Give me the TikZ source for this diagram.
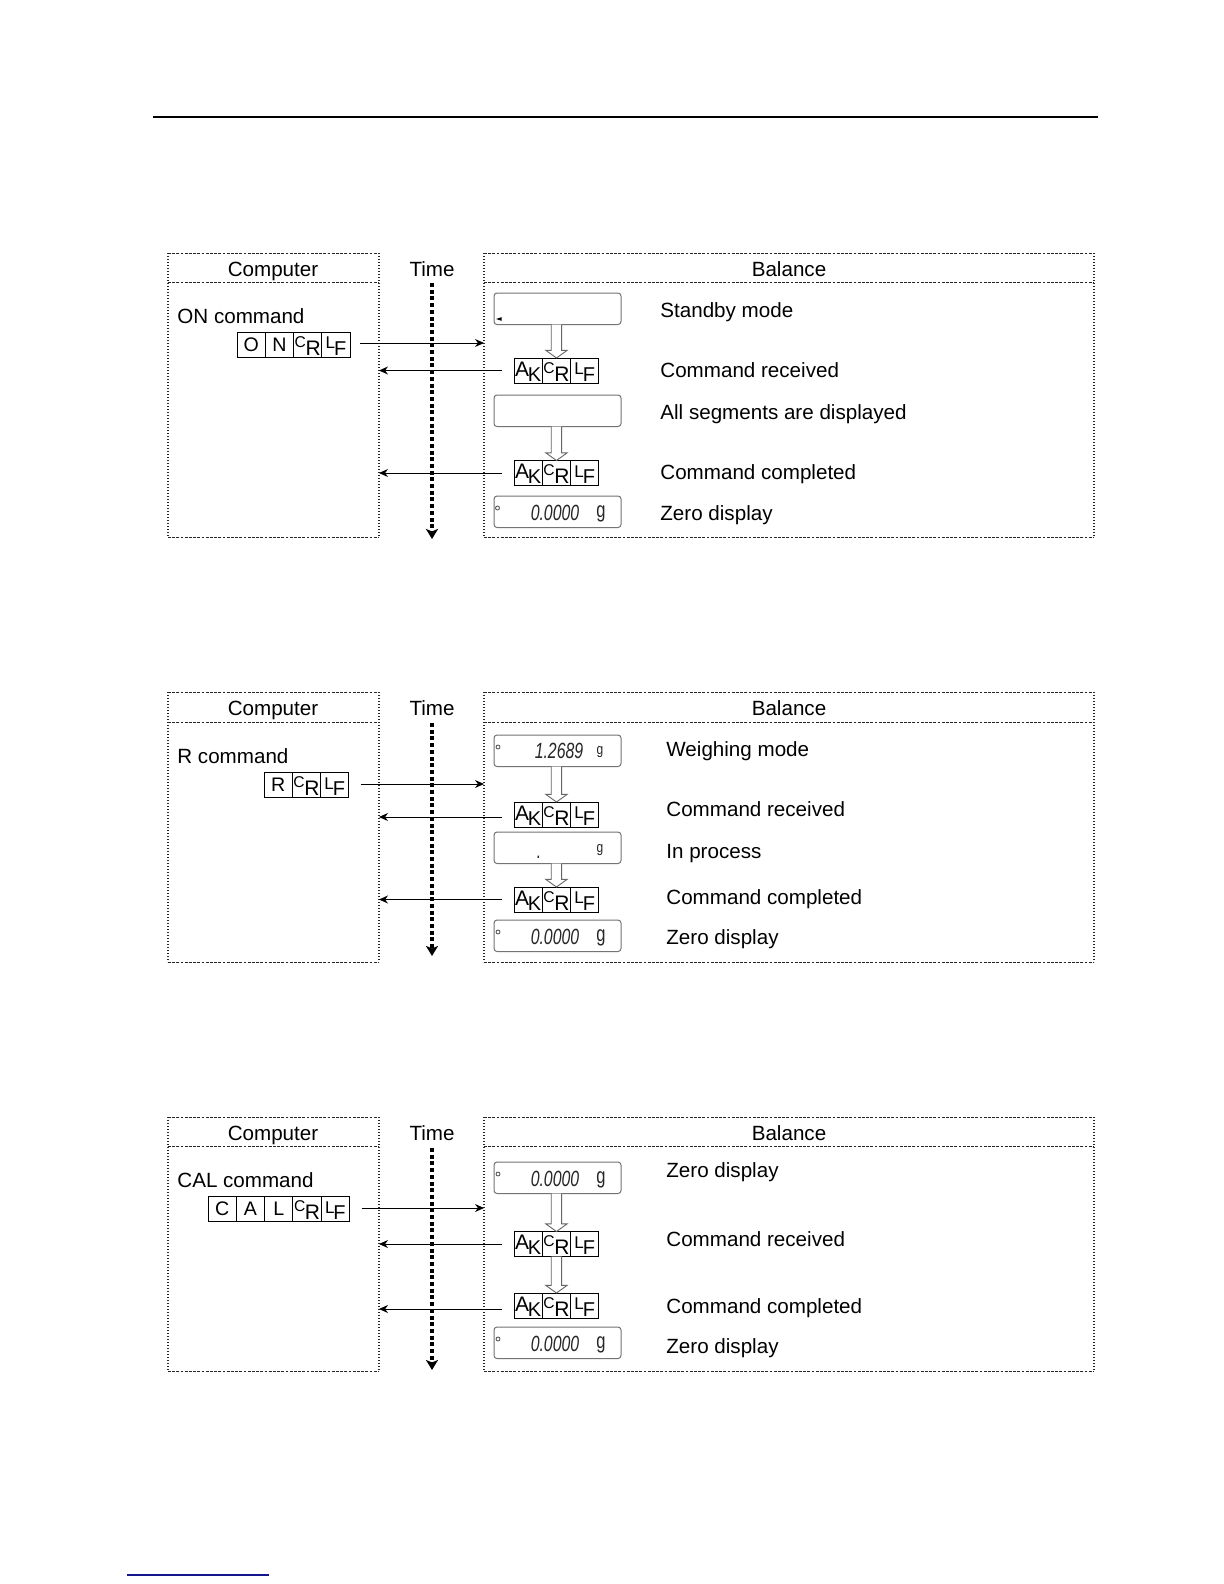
\documentclass[tikz,border=0pt]{standalone}
\usepackage{fontspec}
\setmainfont{Liberation Sans}
\usetikzlibrary{arrows.meta,calc}
\definecolor{navyline}{RGB}{20,20,140}
\newcommand{\sglch}[1]{\raisebox{2.8pt}{\fontsize{9.8}{9.8}\selectfont #1}}
\newcommand{\ctlAK}{\raisebox{3.3pt}{\fontsize{10.5}{10.5}\selectfont A}\kern-0.6pt\raisebox{0.85pt}{\fontsize{10}{10}\selectfont K}}
\newcommand{\ctlCR}{\raisebox{5pt}{\fontsize{7.8}{7.8}\selectfont C}\kern-0.2pt\raisebox{0.85pt}{\fontsize{10.5}{10.5}\selectfont R}}
\newcommand{\ctlLF}{\raisebox{4.2pt}{\fontsize{8.5}{8.5}\selectfont L}\kern-0.5pt\raisebox{0.85pt}{\fontsize{10}{10}\selectfont F}}
\newcommand{\segtxt}[1]{\scalebox{0.72}[1]{\fontsize{11}{11}\selectfont\itshape #1}}
\newcommand{\panelframe}[3]{%
  \draw[hline] (168,#1) -- (379,#1) (168,#2) -- (379,#2) (168,#3) -- (379,#3)
    (484,#1) -- (1094,#1) (484,#2) -- (1094,#2) (484,#3) -- (1094,#3);
  \draw[vline] (168,#1) -- (168,#3) (379,#1) -- (379,#3) (484,#1) -- (484,#3) (1094,#1) -- (1094,#3);}
\newcommand{\harrow}[2]{\draw[hollow] let \p1=(#1), \p2=(#2) in
  (\x2-2.6pt,\y1) -- (\x2-2.6pt,\y2+3.8pt) -- (\x2-5.3pt,\y2+3.8pt) -- (\x2,\y2)
  -- (\x2+5.3pt,\y2+3.8pt) -- (\x2+2.6pt,\y2+3.8pt) -- (\x2+2.6pt,\y1);}
\tikzset{
  lbl/.style={font=\fontsize{10.3}{12}\selectfont, inner sep=0pt, anchor=base west},
  hdr/.style={font=\fontsize{10.3}{12}\selectfont, inner sep=0pt, anchor=base},
  hline/.style={black!85, line width=0.5pt, dash pattern=on 1.4pt off 0.7pt},
  vline/.style={black!85, line width=0.6pt, dash pattern=on 0.6pt off 0.9pt},
  chbox/.style={draw, line width=0.5pt, minimum width=14.15pt, minimum height=12.5pt,
    inner xsep=0pt, inner ysep=0pt, text height=12.5pt, text depth=0pt, outer sep=0pt, anchor=west},
  disp/.style={draw=black!55, line width=0.5pt, rounded corners=1.5pt, minimum width=63.5pt,
    minimum height=15.75pt, inner sep=0pt, outer sep=0pt, anchor=north west},
  segd/.style={inner sep=0pt, text=black!85},
  segg/.style={inner sep=0pt, text=black!85, anchor=base},
  ring/.style={draw=black!70, line width=0.4pt},
  msg/.style={line width=0.5pt, -{Stealth[length=4.5pt,width=4pt]}},
  timeline/.style={line width=2pt, dash pattern=on 2pt off 1.35pt, -{Stealth[length=5pt,width=6pt,inset=1.2pt]}},
  hollow/.style={draw=black!60, line width=0.45pt, fill=white},
}
\begin{document}
\begin{tikzpicture}[x=0.5pt,y=-0.5pt]
\useasboundingbox (0,0) rectangle (1224,1584);
\fill[white] (0,0) rectangle (1224,1584);
\draw[line width=0.9pt] (153,117) -- (1098,117);
\draw[navyline, line width=0.6pt] (127,1575) -- (269,1575);

% ================= Panel 1 =================
\panelframe{253}{282}{537}
\node[hdr] (d1comp) at (273,276) {Computer};
\node[hdr] (d1time) at (432,276) {Time};
\node[hdr] (d1bal) at (789,276) {Balance};
\coordinate (d1ts) at (432,283);
\coordinate (d1te) at (432,539);
\draw[timeline] (d1ts) -- (d1te);
\coordinate (d1cR) at (379,300);
\coordinate (d1bL) at (484,300);
\node[lbl] (d1cmd) at (177,323) {ON command};
\node[chbox] (d1c1) at (237,344.5) {\sglch{O}};
\node[chbox] (d1c2) at (d1c1.east) {\sglch{N}};
\node[chbox] (d1c3) at (d1c2.east) {\ctlCR};
\node[chbox] (d1c4) at (d1c3.east) {\ctlLF};
\draw[msg] ([xshift=5pt,yshift=0.75pt]d1c4.east) -- ([yshift=0.75pt]d1c4.east -| d1bL);

\node[disp] (d1d1) at (494,293) {};
\fill (496,319) -- (501.5,317.2) -- (501.5,320.8) -- cycle;
\node[chbox] (d1a1) at (514,370.5) {\ctlAK};
\node[chbox] (d1a2) at (d1a1.east) {\ctlCR};
\node[chbox] (d1a3) at (d1a2.east) {\ctlLF};
\harrow{d1d1.south}{d1a2.north}
\draw[msg] ([xshift=-6pt]d1a1.west) -- (d1a1.west -| d1cR);
\node[disp] (d1d2) at (494,395) {};
\node[chbox] (d1b1) at (514,473) {\ctlAK};
\node[chbox] (d1b2) at (d1b1.east) {\ctlCR};
\node[chbox] (d1b3) at (d1b2.east) {\ctlLF};
\harrow{d1d2.south}{d1b2.north}
\draw[msg] ([xshift=-6pt]d1b1.west) -- (d1b1.west -| d1cR);
\node[disp] (d1d3) at (494,496) {};
\node[segd] (d1z) at (555,512.5) {\segtxt{0.0000}};
\node[segg] (d1g) at (601,517) {\scalebox{0.75}[1]{\fontsize{11}{11}\selectfont g}};
\draw[ring] (497.5,508) circle (1pt);

\node[lbl] (d1l1) at (660,317) {Standby mode};
\node[lbl] (d1l2) at (660,377) {Command received};
\node[lbl] (d1l3) at (660,419) {All segments are displayed};
\node[lbl] (d1l4) at (660,479) {Command completed};
\node[lbl] (d1l5) at (660,520) {Zero display};

% ================= Panel 2 =================
\panelframe{692}{722}{962}
\node[hdr] (d2comp) at (273,715) {Computer};
\node[hdr] (d2time) at (432,715) {Time};
\node[hdr] (d2bal) at (789,715) {Balance};
\coordinate (d2ts) at (432,723);
\coordinate (d2te) at (432,956);
\draw[timeline] (d2ts) -- (d2te);
\coordinate (d2cR) at (379,740);
\coordinate (d2bL) at (484,740);
\node[lbl] (d2cmd) at (177,763) {R command};
\node[chbox] (d2c1) at (264,785) {\sglch{R}};
\node[chbox] (d2c2) at (d2c1.east) {\ctlCR};
\node[chbox] (d2c3) at (d2c2.east) {\ctlLF};
\draw[msg] ([xshift=6pt,yshift=0.5pt]d2c3.east) -- ([yshift=0.5pt]d2c3.east -| d2bL);

\node[disp] (d2d1) at (494,735) {};
\node[segd] (d2w) at (559,750.5) {\segtxt{1.2689}};
\node[segg] (d2g1) at (600,754) {\scalebox{0.8}[1]{\fontsize{7.5}{7.5}\selectfont g}};
\draw[ring] (498,747) circle (1pt);
\node[chbox] (d2a1) at (514,814.5) {\ctlAK};
\node[chbox] (d2a2) at (d2a1.east) {\ctlCR};
\node[chbox] (d2a3) at (d2a2.east) {\ctlLF};
\harrow{d2d1.south}{d2a2.north}
\draw[msg] ([xshift=-6pt,yshift=-1.25pt]d2a1.west) -- ([yshift=-1.25pt]d2a1.west -| d2cR);
\node[disp] (d2d2) at (494,832) {};
\node[segd, anchor=base] (d2dot) at (539,858) {\segtxt{.}};
\node[segg] (d2g2) at (600,852) {\scalebox{0.8}[1]{\fontsize{7.5}{7.5}\selectfont g}};
\node[chbox] (d2b1) at (514,899.5) {\ctlAK};
\node[chbox] (d2b2) at (d2b1.east) {\ctlCR};
\node[chbox] (d2b3) at (d2b2.east) {\ctlLF};
\harrow{d2d2.south}{d2b2.north}
\draw[msg] ([xshift=-6pt]d2b1.west) -- (d2b1.west -| d2cR);
\node[disp] (d2d3) at (494,920) {};
\node[segd] (d2z) at (555,936.5) {\segtxt{0.0000}};
\node[segg] (d2g3) at (601,941) {\scalebox{0.75}[1]{\fontsize{11}{11}\selectfont g}};
\draw[ring] (498,932) circle (1pt);

\node[lbl] (d2l1) at (666,756) {Weighing mode};
\node[lbl] (d2l2) at (666,816) {Command received};
\node[lbl] (d2l3) at (666,858) {In process};
\node[lbl] (d2l4) at (666,904) {Command completed};
\node[lbl] (d2l5) at (666,944) {Zero display};

% ================= Panel 3 =================
\panelframe{1117}{1146}{1371}
\node[hdr] (d3comp) at (273,1140) {Computer};
\node[hdr] (d3time) at (432,1140) {Time};
\node[hdr] (d3bal) at (789,1140) {Balance};
\coordinate (d3ts) at (432,1148);
\coordinate (d3te) at (432,1370);
\draw[timeline] (d3ts) -- (d3te);
\coordinate (d3cR) at (379,1160);
\coordinate (d3bL) at (484,1160);
\node[lbl] (d3cmd) at (177,1187) {CAL command};
\node[chbox] (d3c1) at (208,1209) {\sglch{C}};
\node[chbox] (d3c2) at (d3c1.east) {\sglch{A}};
\node[chbox] (d3c3) at (d3c2.east) {\sglch{L}};
\node[chbox] (d3c4) at (d3c3.east) {\ctlCR};
\node[chbox] (d3c5) at (d3c4.east) {\ctlLF};
\draw[msg] ([xshift=6pt,yshift=0.5pt]d3c5.east) -- ([yshift=0.5pt]d3c5.east -| d3bL);

\node[disp] (d3d1) at (494,1162) {};
\node[segd] (d3z1) at (555,1178.5) {\segtxt{0.0000}};
\node[segg] (d3g1) at (601,1183) {\scalebox{0.75}[1]{\fontsize{11}{11}\selectfont g}};
\draw[ring] (498,1174) circle (1pt);
\node[chbox] (d3a1) at (514,1244) {\ctlAK};
\node[chbox] (d3a2) at (d3a1.east) {\ctlCR};
\node[chbox] (d3a3) at (d3a2.east) {\ctlLF};
\harrow{d3d1.south}{d3a2.north}
\draw[msg] ([xshift=-6pt]d3a1.west) -- (d3a1.west -| d3cR);
\node[chbox] (d3b1) at (514,1305.5) {\ctlAK};
\node[chbox] (d3b2) at (d3b1.east) {\ctlCR};
\node[chbox] (d3b3) at (d3b2.east) {\ctlLF};
\harrow{d3a2.south}{d3b2.north}
\draw[msg] ([xshift=-6pt,yshift=-1.75pt]d3b1.west) -- ([yshift=-1.75pt]d3b1.west -| d3cR);
\node[disp] (d3d2) at (494,1327) {};
\node[segd] (d3z2) at (555,1343.5) {\segtxt{0.0000}};
\node[segg] (d3g2) at (601,1348) {\scalebox{0.75}[1]{\fontsize{11}{11}\selectfont g}};
\draw[ring] (498,1339) circle (1pt);

\node[lbl] (d3l1) at (666,1177) {Zero display};
\node[lbl] (d3l2) at (666,1246) {Command received};
\node[lbl] (d3l3) at (666,1313) {Command completed};
\node[lbl] (d3l4) at (666,1353) {Zero display};
\end{tikzpicture}
\end{document}
